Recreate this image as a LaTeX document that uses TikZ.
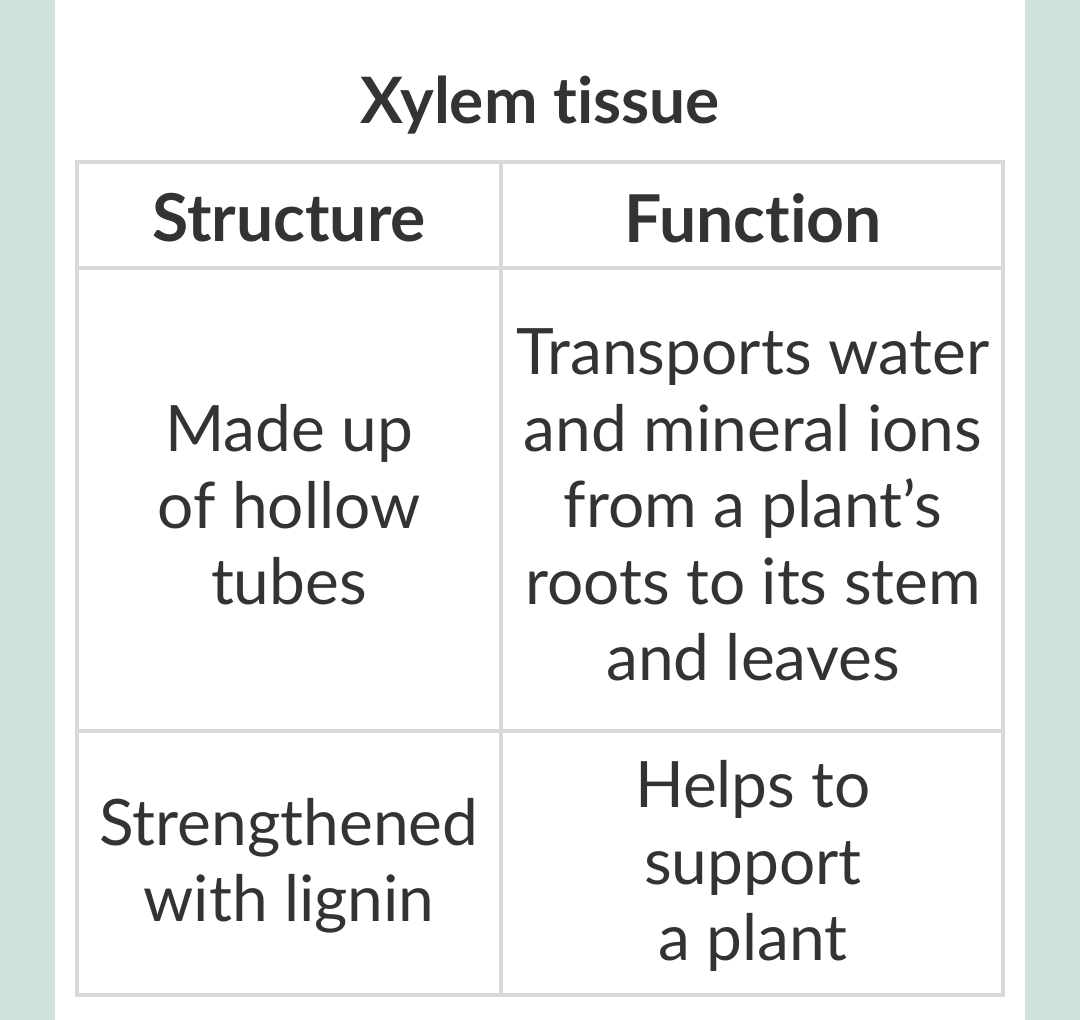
\documentclass[tikz,border=0pt]{standalone}
\usepackage{fontspec}
\setmainfont[Ligatures=NoCommon]{Lato}
\definecolor{side}{HTML}{CFE2DA}
\definecolor{grid}{HTML}{D9D9D9}
\definecolor{txt}{HTML}{333333}
\begin{document}
\begin{tikzpicture}[x=1pt,y=-1pt,
  cell/.style={align=center,text=txt,font=\fontsize{64}{76.5}\selectfont},
  head/.style={text=txt,font=\fontsize{66}{70}\selectfont\bfseries},
  gl/.style={draw=grid,line width=4pt}]
\useasboundingbox (0,0) rectangle (1080,1020);
\fill[side] (0,0) rectangle (55,1020);
\fill[side] (1025,0) rectangle (1080,1020);
\node[head,font=\fontsize{64}{70}\selectfont\bfseries] (title) at (540,105) {Xylem tissue};
\draw[gl] (77,162) rectangle (1003,995);
\draw[gl] (77,268) -- (1003,268);
\draw[gl] (77,731) -- (1003,731);
\draw[gl] (501,162) -- (501,995);
\node[head] (h1) at (289,218) {Structure};
\node[head] (h2) at (753,218) {Function};
\node[cell] (c1) at (289,505) {Made up\\of hollow\\tubes};
\node[cell] (c2) at (753,505) {Transports water\\and mineral ions\\from a plant’s\\roots to its stem\\and leaves};
\node[cell] (c3) at (289,866) {Strengthened\\with lignin};
\node[cell] (c4) at (753,866) {Helps to\\support\\a plant};
\end{tikzpicture}
\end{document}
